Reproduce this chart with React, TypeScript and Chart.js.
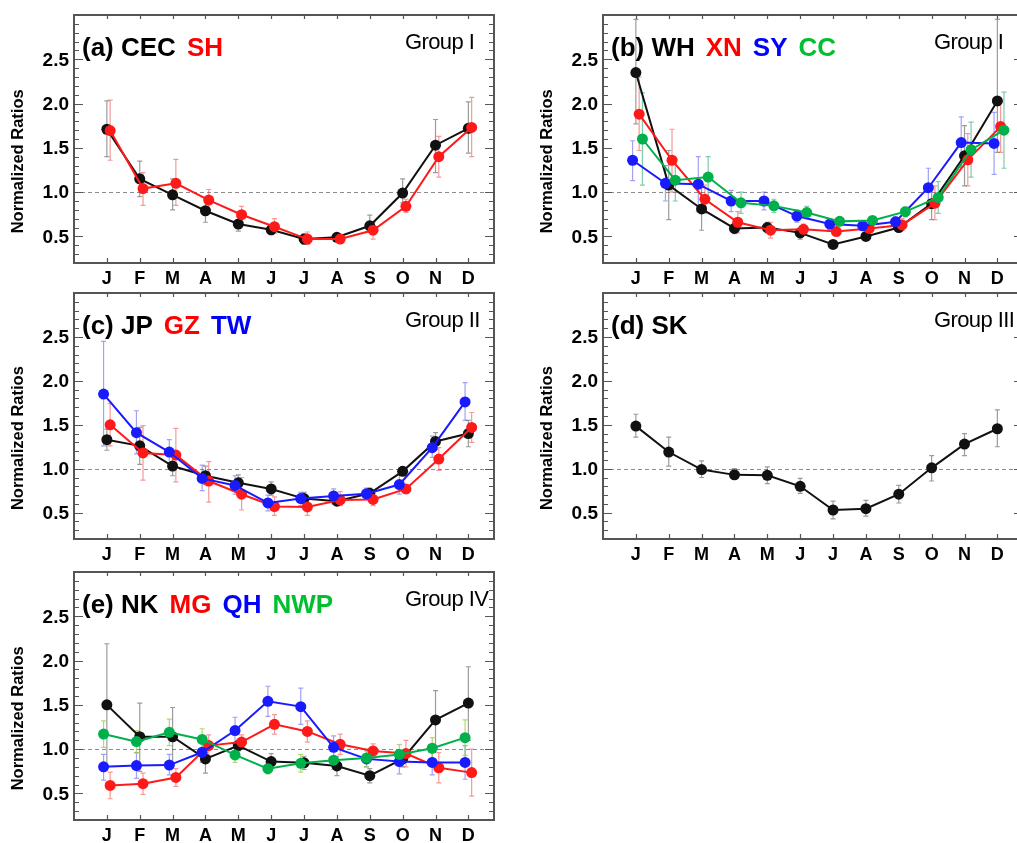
import React, { useEffect, useRef } from "react";
import { Chart, registerables } from "chart.js";
Chart.register(...registerables);

// ---------- data ----------
const MONTHS = ["J", "F", "M", "A", "M", "J", "J", "A", "S", "O", "N", "D"];
const Y_TICKS = [0.5, 1.0, 1.5, 2.0, 2.5];
const Y_TICK_LABELS = ["0.5", "1.0", "1.5", "2.0", "2.5"];
const REF_LINE = 1.0;

// (a)
const CEC = [1.71, 1.15, 0.97, 0.79, 0.64, 0.575, 0.47, 0.49, 0.62, 0.99, 1.53, 1.72];
const CEC_LO = [1.40, 0.95, 0.80, 0.66, 0.56, 0.52, 0.41, 0.45, 0.55, 0.88, 1.22, 1.44];
const CEC_HI = [2.03, 1.35, 1.15, 0.92, 0.72, 0.63, 0.53, 0.53, 0.74, 1.15, 1.82, 2.02];
const SH = [1.695, 1.04, 1.10, 0.91, 0.745, 0.61, 0.47, 0.47, 0.57, 0.84, 1.40, 1.73];
const SH_LO = [1.36, 0.85, 0.85, 0.80, 0.66, 0.53, 0.41, 0.43, 0.47, 0.77, 1.17, 1.40];
const SH_HI = [2.04, 1.22, 1.37, 1.03, 0.84, 0.70, 0.55, 0.51, 0.66, 0.92, 1.63, 2.07];

// (b)
const WH = [2.35, 1.08, 0.81, 0.59, 0.60, 0.54, 0.41, 0.50, 0.60, 0.87, 1.41, 2.03];
const WH_LO = [1.77, 0.69, 0.57, 0.53, 0.54, 0.47, 0.38, 0.46, 0.56, 0.69, 1.07, 1.45];
const WH_HI = [2.95, 1.47, 1.05, 0.65, 0.66, 0.60, 0.44, 0.54, 0.66, 1.05, 1.75, 2.95];
const XN = [1.88, 1.36, 0.92, 0.66, 0.57, 0.58, 0.555, 0.59, 0.63, 0.875, 1.365, 1.74];
const XN_LO = [1.47, 1.00, 0.76, 0.54, 0.48, 0.53, 0.51, 0.55, 0.57, 0.69, 1.07, 1.45];
const XN_HI = [2.30, 1.71, 1.08, 0.78, 0.66, 0.64, 0.60, 0.63, 0.70, 1.07, 1.66, 2.03];
const SY = [1.36, 1.10, 1.09, 0.90, 0.90, 0.73, 0.64, 0.62, 0.665, 1.05, 1.56, 1.55];
const SY_LO = [1.13, 0.90, 0.78, 0.78, 0.80, 0.66, 0.58, 0.57, 0.60, 0.84, 1.28, 1.20];
const SY_HI = [1.58, 1.30, 1.40, 1.02, 1.00, 0.80, 0.70, 0.67, 0.72, 1.27, 1.85, 1.90];
const CC = [1.60, 1.135, 1.17, 0.88, 0.845, 0.77, 0.67, 0.68, 0.78, 0.94, 1.48, 1.70];
const CC_LO = [1.08, 0.90, 0.93, 0.76, 0.77, 0.70, 0.63, 0.64, 0.72, 0.76, 1.17, 1.27];
const CC_HI = [2.12, 1.37, 1.40, 1.00, 0.92, 0.84, 0.71, 0.72, 0.83, 1.12, 1.79, 2.13];

// (c)
const JP = [1.33, 1.26, 1.03, 0.92, 0.84, 0.77, 0.66, 0.63, 0.72, 0.97, 1.31, 1.40];
const JP_LO = [1.21, 1.05, 0.92, 0.82, 0.75, 0.70, 0.60, 0.59, 0.66, 0.93, 1.22, 1.25];
const JP_HI = [1.45, 1.47, 1.15, 1.03, 0.93, 0.85, 0.73, 0.68, 0.78, 1.02, 1.41, 1.55];
const GZ = [1.50, 1.18, 1.155, 0.86, 0.71, 0.57, 0.565, 0.645, 0.65, 0.77, 1.11, 1.47];
const GZ_LO = [1.26, 0.87, 0.85, 0.62, 0.53, 0.47, 0.47, 0.58, 0.58, 0.72, 0.98, 1.30];
const GZ_HI = [1.74, 1.49, 1.46, 1.08, 0.90, 0.68, 0.65, 0.74, 0.73, 0.82, 1.24, 1.64];
const TW = [1.85, 1.41, 1.19, 0.89, 0.81, 0.61, 0.66, 0.69, 0.715, 0.82, 1.24, 1.76];
const TW_LO = [1.26, 1.17, 1.06, 0.75, 0.71, 0.52, 0.58, 0.60, 0.66, 0.71, 1.13, 1.55];
const TW_HI = [2.45, 1.66, 1.33, 1.04, 0.92, 0.70, 0.73, 0.77, 0.78, 0.94, 1.37, 1.98];

// (d)
const SK = [1.485, 1.19, 0.99, 0.93, 0.925, 0.80, 0.53, 0.545, 0.71, 1.01, 1.28, 1.455];
const SK_LO = [1.36, 1.03, 0.90, 0.88, 0.83, 0.72, 0.43, 0.46, 0.61, 0.86, 1.15, 1.25];
const SK_HI = [1.62, 1.36, 1.09, 1.00, 1.02, 0.89, 0.63, 0.64, 0.81, 1.15, 1.40, 1.67];

// (e)
const NK = [1.50, 1.14, 1.14, 0.89, 1.04, 0.86, 0.845, 0.81, 0.70, 0.89, 1.33, 1.52];
const NK_LO = [0.80, 0.75, 0.82, 0.73, 0.98, 0.78, 0.77, 0.70, 0.62, 0.80, 1.00, 1.10];
const NK_HI = [2.19, 1.52, 1.47, 1.05, 1.10, 0.95, 0.92, 0.92, 0.78, 0.98, 1.66, 1.93];
const MG = [0.59, 0.61, 0.68, 1.04, 1.08, 1.28, 1.20, 1.055, 0.98, 0.95, 0.79, 0.735];
const MG_LO = [0.44, 0.49, 0.58, 0.93, 1.01, 1.17, 1.08, 0.94, 0.90, 0.80, 0.62, 0.47];
const MG_HI = [0.74, 0.73, 0.78, 1.16, 1.16, 1.39, 1.32, 1.17, 1.06, 1.10, 0.96, 1.00];
const QH = [0.80, 0.815, 0.82, 0.965, 1.21, 1.54, 1.48, 1.02, 0.89, 0.86, 0.85, 0.85];
const QH_LO = [0.65, 0.67, 0.71, 0.85, 1.06, 1.37, 1.28, 0.90, 0.80, 0.72, 0.71, 0.66];
const QH_HI = [0.94, 0.96, 0.94, 1.08, 1.36, 1.71, 1.69, 1.15, 0.98, 0.99, 0.99, 1.04];
const NWP = [1.17, 1.085, 1.19, 1.11, 0.935, 0.78, 0.84, 0.875, 0.90, 0.94, 1.01, 1.13];
const NWP_LO = [1.02, 0.96, 1.04, 0.98, 0.85, 0.72, 0.74, 0.77, 0.80, 0.84, 0.90, 0.93];
const NWP_HI = [1.32, 1.21, 1.34, 1.23, 1.02, 0.84, 0.94, 0.98, 1.00, 1.05, 1.13, 1.33];

// ---------- styles ----------
const FONT = '"Liberation Sans", Arial, Helvetica, sans-serif';
const C_BLACK = "#111111";
const C_RED = "#ff1a1a";
const C_BLUE = "#1a1aff";
const C_GREEN = "#00b04a";
const T_RED = "#ff0000";
const T_BLUE = "#0000ff";
const T_GREEN = "#00c030";
const E_BLACK = "rgba(90,90,90,0.6)";
const E_RED = "rgba(235,70,70,0.55)";
const E_BLUE = "rgba(70,70,235,0.5)";
const E_GREEN = "rgba(40,170,110,0.6)";
const E_GREEN2 = "rgba(150,205,60,0.75)";

const CW = 510;
const CH = 290;
const PAD_L = 74;
const PAD_T = 15;
const PLOT_W = 420;
const X_MIN = 0;
const X_MAX = 12.78;
const Y_MIN = 0.2;
const Y_MAX = 3.0;

type Series = { values: number[]; lo: number[]; hi: number[]; color: string; err: string; offset: number };
type PanelCfg = {
  key: string;
  left: number;
  top: number;
  h: number;
  title: { text: string; color: string }[];
  group: string;
  series: Series[];
};

const PANELS: PanelCfg[] = [
  {
    key: "a", left: 74, top: 15, h: 248,
    title: [{ text: "(a) CEC", color: "#000" }, { text: "SH", color: T_RED }],
    group: "Group I",
    series: [
      { values: CEC, lo: CEC_LO, hi: CEC_HI, color: C_BLACK, err: E_BLACK, offset: 0 },
      { values: SH, lo: SH_LO, hi: SH_HI, color: C_RED, err: E_RED, offset: 0.1 },
    ],
  },
  {
    key: "b", left: 603, top: 15, h: 248,
    title: [
      { text: "(b) WH", color: "#000" }, { text: "XN", color: T_RED },
      { text: "SY", color: T_BLUE }, { text: "CC", color: T_GREEN },
    ],
    group: "Group I",
    series: [
      { values: WH, lo: WH_LO, hi: WH_HI, color: C_BLACK, err: E_BLACK, offset: 0 },
      { values: XN, lo: XN_LO, hi: XN_HI, color: C_RED, err: E_RED, offset: 0.1 },
      { values: SY, lo: SY_LO, hi: SY_HI, color: C_BLUE, err: E_BLUE, offset: -0.1 },
      { values: CC, lo: CC_LO, hi: CC_HI, color: C_GREEN, err: E_GREEN, offset: 0.2 },
    ],
  },
  {
    key: "c", left: 74, top: 293, h: 246,
    title: [{ text: "(c) JP", color: "#000" }, { text: "GZ", color: T_RED }, { text: "TW", color: T_BLUE }],
    group: "Group II",
    series: [
      { values: JP, lo: JP_LO, hi: JP_HI, color: C_BLACK, err: E_BLACK, offset: 0 },
      { values: GZ, lo: GZ_LO, hi: GZ_HI, color: C_RED, err: E_RED, offset: 0.1 },
      { values: TW, lo: TW_LO, hi: TW_HI, color: C_BLUE, err: E_BLUE, offset: -0.1 },
    ],
  },
  {
    key: "d", left: 603, top: 293, h: 246,
    title: [{ text: "(d) SK", color: "#000" }],
    group: "Group III",
    series: [{ values: SK, lo: SK_LO, hi: SK_HI, color: C_BLACK, err: E_BLACK, offset: 0 }],
  },
  {
    key: "e", left: 74, top: 572, h: 248,
    title: [
      { text: "(e) NK", color: "#000" }, { text: "MG", color: T_RED },
      { text: "QH", color: T_BLUE }, { text: "NWP", color: T_GREEN },
    ],
    group: "Group IV",
    series: [
      { values: NK, lo: NK_LO, hi: NK_HI, color: C_BLACK, err: E_BLACK, offset: 0 },
      { values: MG, lo: MG_LO, hi: MG_HI, color: C_RED, err: E_RED, offset: 0.1 },
      { values: QH, lo: QH_LO, hi: QH_HI, color: C_BLUE, err: E_BLUE, offset: -0.1 },
      { values: NWP, lo: NWP_LO, hi: NWP_HI, color: C_GREEN, err: E_GREEN2, offset: -0.1 },
    ],
  },
];

function makeDeco(panel: PanelCfg) {
  return {
    id: "deco" + panel.key,
    beforeDatasetsDraw(chart: any) {
      const { ctx, chartArea: a } = chart;
      const x = chart.scales.x;
      const y = chart.scales.y;
      ctx.save();
      ctx.beginPath();
      ctx.rect(a.left, a.top, a.right - a.left, a.bottom - a.top);
      ctx.clip();
      // reference line
      ctx.strokeStyle = "#8c8c8c";
      ctx.lineWidth = 1;
      ctx.setLineDash([4, 3]);
      const yr = Math.round(y.getPixelForValue(REF_LINE)) + 0.5;
      ctx.beginPath();
      ctx.moveTo(a.left, yr);
      ctx.lineTo(a.right, yr);
      ctx.stroke();
      ctx.setLineDash([]);
      // error bars
      panel.series.forEach((s) => {
        ctx.strokeStyle = s.err;
        ctx.lineWidth = 1.2;
        s.values.forEach((_v, i) => {
          const px = x.getPixelForValue(i + 1 + s.offset);
          const lo = y.getPixelForValue(s.lo[i]);
          const hi = y.getPixelForValue(s.hi[i]);
          ctx.beginPath();
          ctx.moveTo(px, lo);
          ctx.lineTo(px, hi);
          ctx.moveTo(px - 2.5, lo);
          ctx.lineTo(px + 2.5, lo);
          ctx.moveTo(px - 2.5, hi);
          ctx.lineTo(px + 2.5, hi);
          ctx.stroke();
        });
      });
      ctx.restore();
    },
    afterDraw(chart: any) {
      const { ctx, chartArea: a } = chart;
      const x = chart.scales.x;
      const y = chart.scales.y;
      ctx.save();
      // frame
      ctx.strokeStyle = "#555555";
      ctx.lineWidth = 2;
      ctx.strokeRect(a.left, a.top, a.right - a.left, a.bottom - a.top);
      // y ticks (major + minor), both sides
      ctx.lineWidth = 1.2;
      for (let k = 3; k <= 29; k++) {
        const v = k / 10;
        const py = Math.round(y.getPixelForValue(v)) + 0.5;
        const major = k % 5 === 0;
        const len = major ? 9 : 5;
        ctx.beginPath();
        ctx.moveTo(a.left, py);
        ctx.lineTo(a.left + len, py);
        ctx.moveTo(a.right, py);
        ctx.lineTo(a.right - len, py);
        ctx.stroke();
      }
      // x ticks bottom & top
      MONTHS.forEach((_m, i) => {
        const px = Math.round(x.getPixelForValue(i + 1)) + 0.5;
        ctx.beginPath();
        ctx.moveTo(px, a.bottom);
        ctx.lineTo(px, a.bottom - 5);
        ctx.moveTo(px, a.top);
        ctx.lineTo(px, a.top + 4);
        ctx.stroke();
      });
      // y tick labels
      ctx.fillStyle = "#000";
      ctx.font = `bold 19px ${FONT}`;
      ctx.textAlign = "right";
      ctx.textBaseline = "middle";
      Y_TICKS.forEach((v, i) => {
        ctx.fillText(Y_TICK_LABELS[i], a.left - 5, y.getPixelForValue(v) + 1);
      });
      // x tick labels
      ctx.font = `bold 18px ${FONT}`;
      ctx.textAlign = "center";
      MONTHS.forEach((m, i) => {
        ctx.fillText(m, x.getPixelForValue(i + 1), a.bottom + 16);
      });
      // y axis title
      ctx.save();
      ctx.translate(a.left - 56, a.top + 0.59 * (a.bottom - a.top));
      ctx.rotate(-Math.PI / 2);
      ctx.font = `bold 16.5px ${FONT}`;
      ctx.textAlign = "center";
      ctx.textBaseline = "middle";
      ctx.fillText("Normalized Ratios", 0, 0);
      ctx.restore();
      // panel title
      ctx.font = `bold 26px ${FONT}`;
      ctx.textAlign = "left";
      ctx.textBaseline = "alphabetic";
      let tx = a.left + 8;
      panel.title.forEach((t) => {
        ctx.fillStyle = t.color;
        ctx.fillText(t.text, tx, a.top + 41);
        tx += ctx.measureText(t.text).width + 11;
      });
      // group label
      ctx.fillStyle = "#000";
      ctx.font = `500 22px ${FONT}`;
      try {
        (ctx as any).letterSpacing = "-0.6px";
      } catch (e) {}
      ctx.fillText(panel.group, a.left + 331, a.top + 34);
      try {
        (ctx as any).letterSpacing = "0px";
      } catch (e) {}
      ctx.restore();
    },
  };
}

function Panel({ panel }: { panel: PanelCfg }) {
  const ref = useRef<HTMLCanvasElement | null>(null);
  useEffect(() => {
    const canvas = ref.current;
    if (!canvas) return;
    const datasets = panel.series.map((s, idx) => ({
      data: s.values.map((v, i) => ({ x: i + 1 + s.offset, y: v })),
      borderColor: s.color,
      backgroundColor: s.color,
      borderWidth: 2,
      pointRadius: 5.5,
      pointHoverRadius: 5.5,
      pointBorderWidth: 0,
      pointBackgroundColor: s.color,
      tension: 0,
      fill: false,
      order: -idx,
    }));
    const chart = new Chart(canvas, {
      type: "line",
      data: { datasets },
      options: {
        animation: false,
        responsive: false,
        devicePixelRatio: 1,
        layout: {
          padding: {
            left: PAD_L,
            top: PAD_T,
            right: CW - PAD_L - PLOT_W,
            bottom: CH - PAD_T - panel.h,
          },
        },
        scales: {
          x: { type: "linear", min: X_MIN, max: X_MAX, display: false },
          y: { type: "linear", min: Y_MIN, max: Y_MAX, display: false },
        },
        plugins: { legend: { display: false }, tooltip: { enabled: false }, title: { display: false } },
        events: [],
      },
      plugins: [makeDeco(panel)],
    } as any);
    return () => chart.destroy();
  }, [panel]);
  return (
    <canvas
      ref={ref}
      width={CW}
      height={CH}
      style={{ position: "absolute", left: panel.left - PAD_L, top: panel.top - PAD_T, width: CW, height: CH }}
    />
  );
}

export default function App() {
  return (
    <div
      style={{
        position: "absolute",
        left: 0,
        top: 0,
        width: 1017,
        height: 843,
        overflow: "hidden",
        background: "#ffffff",
      }}
    >
      {PANELS.map((p) => (
        <Panel key={p.key} panel={p} />
      ))}
    </div>
  );
}
